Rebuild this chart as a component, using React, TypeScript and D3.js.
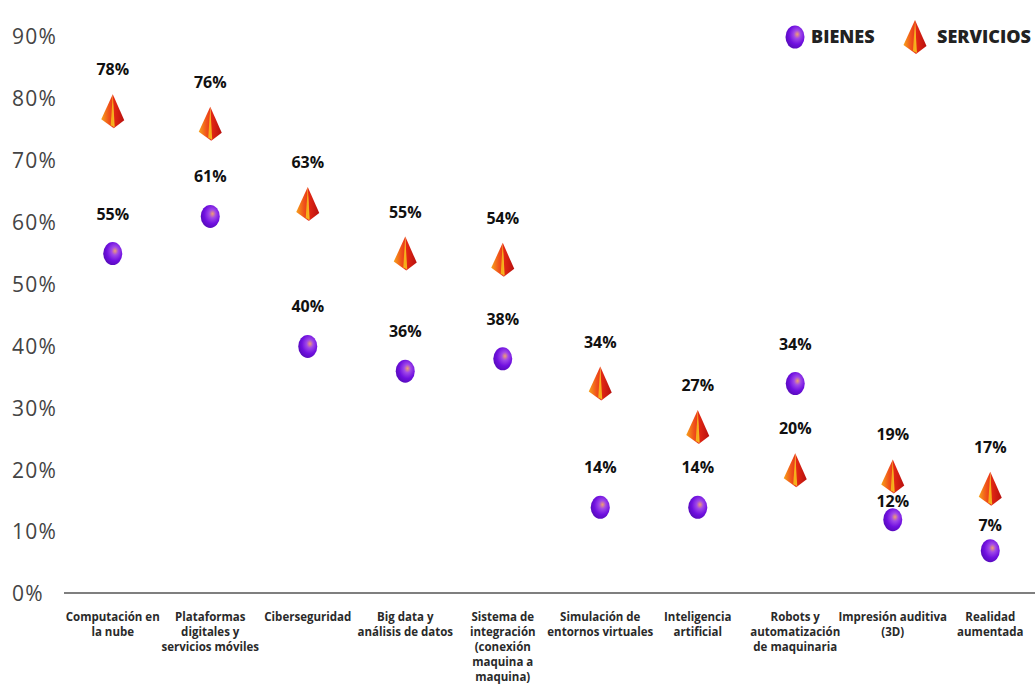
import { useMemo } from "react";
import * as d3 from "d3";

const categories = [
  ["Computación en", "la nube"],
  ["Plataformas", "digitales y", "servicios móviles"],
  ["Ciberseguridad"],
  ["Big data y", "análisis de datos"],
  ["Sistema de", "integración", "(conexión", "maquina a", "maquina)"],
  ["Simulación de", "entornos virtuales"],
  ["Inteligencia", "artificial"],
  ["Robots y", "automatización", "de maquinaria"],
  ["Impresión auditiva", "(3D)"],
  ["Realidad", "aumentada"],
];

const bienes = [55, 61, 40, 36, 38, 14, 14, 34, 12, 7];
const servicios = [78, 76, 63, 55, 54, 34, 27, 20, 19, 17];
const yTicks = [0, 10, 20, 30, 40, 50, 60, 70, 80, 90];

const WIDTH = 1035;
const HEIGHT = 693;
const LEFT = 64;
const RIGHT = 1039;
const BASE = 594;
const TOP = 37;

const Sphere = ({ x, y }: { x: number; y: number }) => (
  <ellipse cx={x} cy={y} rx={9.5} ry={11.5} fill="url(#sphereGrad)" />
);

const Pyramid = ({ x, y }: { x: number; y: number }) => (
  <g transform={`translate(${x},${y})`}>
    <path d="M0,-17 L-11.5,8 L1,17 Z" fill="url(#pyrLeft)" />
    <path d="M0,-17 L1,17 L11.5,9 Z" fill="url(#pyrRight)" />
    <path d="M0,-17 L-2,14 L2,16 Z" fill="#f7c21a" opacity={0.85} />
  </g>
);

export default function App() {
  const x = useMemo(
    () => d3.scaleBand<number>().domain(d3.range(categories.length)).range([LEFT, RIGHT]),
    []
  );
  const y = useMemo(() => d3.scaleLinear().domain([0, 90]).range([BASE, TOP]), []);
  const cx = (i: number) => (x(i) ?? 0) + x.bandwidth() / 2;
  const labelFont = "'Open Sans', 'DejaVu Sans', sans-serif";

  // bienes label sits closer when the servicios marker is just above it
  const bienesOffset = (i: number) => {
    const gap = y(bienes[i]) - y(servicios[i]);
    if (gap > 0 && gap < 50) return 13;
    if (gap > 0 && gap < 70) return 20;
    return 34;
  };

  return (
    <svg
      width={WIDTH}
      height={HEIGHT}
      style={{ position: "absolute", left: 0, top: 0, background: "#fff" }}
    >
      <defs>
        <radialGradient id="sphereGrad" cx="0.6" cy="0.4" r="0.6" fx="0.62" fy="0.38">
          <stop offset="0%" stopColor="#f0a070" />
          <stop offset="30%" stopColor="#a048e8" />
          <stop offset="70%" stopColor="#7010e0" />
          <stop offset="100%" stopColor="#5a0cc0" />
        </radialGradient>
        <linearGradient id="pyrLeft" x1="0" y1="0" x2="1" y2="0">
          <stop offset="0%" stopColor="#f7a21b" />
          <stop offset="60%" stopColor="#f0541a" />
          <stop offset="100%" stopColor="#e8301a" />
        </linearGradient>
        <linearGradient id="pyrRight" x1="0" y1="0" x2="1" y2="0">
          <stop offset="0%" stopColor="#e82a14" />
          <stop offset="100%" stopColor="#b8100e" />
        </linearGradient>
      </defs>

      {yTicks.map((t) => (
        <text
          key={t}
          x={12}
          y={y(t)}
          dy="0.35em"
          fontFamily="'Open Sans', 'Lato', sans-serif"
          fontSize={21}
          letterSpacing={1.2}
          fill="#444"
        >
          {t}%
        </text>
      ))}

      <line x1={LEFT} x2={WIDTH} y1={BASE - 1} y2={BASE - 1} stroke="#555" strokeWidth={1.5} />

      {categories.map((lines, i) => (
        <text
          key={i}
          x={cx(i)}
          y={621}
          textAnchor="middle"
          fontFamily={labelFont}
          fontWeight={700}
          fontSize={11.5}
          fill="#2a2a2a"
        >
          {lines.map((l, j) => (
            <tspan key={j} x={cx(i)} dy={j === 0 ? 0 : 15}>
              {l}
            </tspan>
          ))}
        </text>
      ))}

      {servicios.map((v, i) => (
        <g key={`s${i}`}>
          <Pyramid x={cx(i)} y={y(v)} />
          <text
            x={cx(i)}
            y={y(v) - 36}
            textAnchor="middle"
            fontFamily={labelFont}
            fontWeight={700}
            fontSize={16}
            fill="#111"
          >
            {v}%
          </text>
        </g>
      ))}

      {bienes.map((v, i) => (
        <g key={`b${i}`}>
          <Sphere x={cx(i)} y={y(v)} />
          <text
            x={cx(i)}
            y={y(v) - bienesOffset(i)}
            textAnchor="middle"
            fontFamily={labelFont}
            fontWeight={700}
            fontSize={16}
            fill="#111"
          >
            {v}%
          </text>
        </g>
      ))}

      <g>
        <Sphere x={795} y={37} />
        <text x={811} y={37} dy="0.35em" fontFamily={labelFont} fontWeight={800} fontSize={18} fill="#222">
          BIENES
        </text>
        <Pyramid x={915} y={37} />
        <text x={937} y={37} dy="0.35em" fontFamily={labelFont} fontWeight={800} fontSize={18} fill="#222">
          SERVICIOS
        </text>
      </g>
    </svg>
  );
}
